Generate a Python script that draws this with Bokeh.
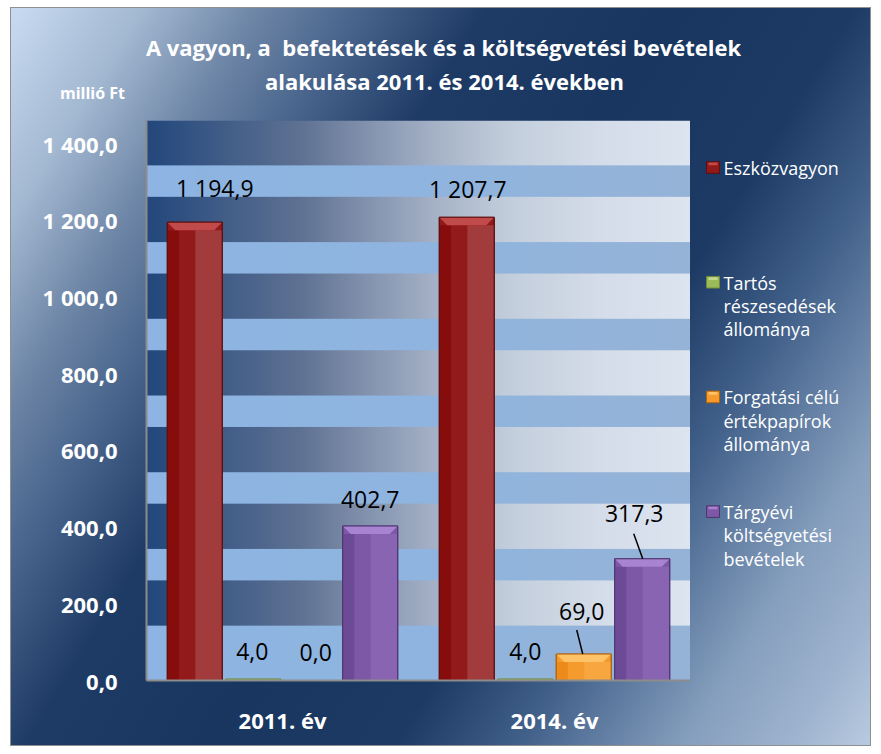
import numpy as np
from bokeh.plotting import figure
from bokeh.layouts import column, row
from bokeh.models import FactorRange, Range1d, FixedTicker
from bokeh.core.properties import value
from bokeh.embed import file_html
from bokeh.resources import INLINE

# ---------------- data ----------------
years = ["2011. év", "2014. év"]
series_names = [
    "Eszközvagyon",
    "Tartós\nrészesedések\nállománya",
    "Forgatási célú\nértékpapírok\nállománya",
    "Tárgyévi\nköltségvetési\nbevételek",
]
eszkozvagyon = [1194.9, 1207.7]
tartos_reszesedesek = [4.0, 4.0]
forgatasi_ertekpapirok = [0.0, 69.0]
targyevi_bevetelek = [402.7, 317.3]
y_ticks = [0, 200, 400, 600, 800, 1000, 1200, 1400]
y_tick_labels = ["0,0", "200,0", "400,0", "600,0", "800,0", "1 000,0", "1 200,0", "1 400,0"]
title_lines = ["A vagyon, a  befektetések és a költségvetési bevételek",
               "alakulása 2011. és 2014. években"]
unit_label = "millió Ft"

series_values = [eszkozvagyon, tartos_reszesedesek, forgatasi_ertekpapirok, targyevi_bevetelek]

# ---------------- styles ----------------
FONT = "Open Sans"
TOTAL_W, TOP_H = 859, 112
BL, BB = 135, 65
FW, FH = 544, 560
MAIN_W, MAIN_H = BL + FW, FH + BB
LEG_W = TOTAL_W - MAIN_W
Y_MAX = 1460
UY = Y_MAX / FH                 # data units per px (y)
UX = len(years) / FW            # category units per px (x)

palette = [
    dict(base="#931a1a", left="#870c0c", right="#a23b3b", cap="#c14a4a", edge="#5e1010"),
    dict(base="#9bbb59", left="#8aa84c", right="#a6c46a", cap="#c0d890", edge="#6f8a3a"),
    dict(base="#f59a2c", left="#ec8a1a", right="#f7a640", cap="#ffc266", edge="#b0650f"),
    dict(base="#7c58a6", left="#6c4a96", right="#8864b2", cap="#a783d2", edge="#4e356f"),
]
slot_offsets = [-0.3225, -0.1075, 0.1075, 0.3225]
bar_w = 55 * UX
cap_px = 8
label_dx_px = [[20, 1], [-1, 0], [4, -2], [0, -8]]
label_dy_px = [[34, 28], [27, 27], [28, 43], [27, 45]]
leaders = {(2, 1): (-7, 24, -1), (3, 1): (-8.5, 25, 0.5)}

light_bands = [(0, 143)] + [(61 + 200 * k, 143 + 200 * k) for k in range(1, 7)]

bg_css = ("linear-gradient(122deg, #c8dbf2 0%, #a3b8d1 10%, #6c84a5 19%, #46628a 27%, "
          "#1e3b66 36%, #18365f 50%, #1c3a64 64%, #3f5e88 73%, #869fbe 86%, "
          "#9eb3ce 94%, #b8cae0 100%)")


def clear(fig):
    fig.border_fill_alpha = 0
    fig.background_fill_alpha = 0
    fig.outline_line_color = None
    fig.grid.visible = False


# ---------------- main plot ----------------
p = figure(width=MAIN_W, height=MAIN_H,
           x_range=FactorRange(factors=years, range_padding=0),
           y_range=Range1d(0, Y_MAX),
           output_backend="svg", toolbar_location=None,
           min_border_left=BL, min_border_right=0, min_border_top=0, min_border_bottom=BB)
clear(p)


def hex2rgb(h):
    return [int(h[i:i + 2], 16) for i in (1, 3, 5)]


def grad_row(stops, n=136):
    t = np.linspace(0, 1, n)
    ts = [s[0] for s in stops]
    cols = [hex2rgb(s[1]) for s in stops]
    arr = np.zeros((1, n, 4), dtype=np.uint8)
    for c in range(3):
        arr[0, :, c] = np.round(np.interp(t, ts, [cc[c] for cc in cols])).astype(np.uint8)
    arr[0, :, 3] = 255
    return arr.view(np.uint32).reshape(1, n)


dark_img = grad_row([(0, "#23487c"), (0.28, "#5e7192"), (0.45, "#8f9db7"), (0.55, "#a9b6c9"),
                     (0.67, "#c3cedc"), (0.83, "#d3dce8"), (1, "#dbe4ef")])
light_img = grad_row([(0, "#8db4e2"), (0.5, "#8fb4df"), (1, "#95b3d7")])

p.image_rgba(image=[dark_img], x=0, y=0, dw=len(years), dh=Y_MAX)
p.image_rgba(image=[light_img] * len(light_bands), x=[0] * len(light_bands),
             y=[b[0] for b in light_bands], dw=[len(years)] * len(light_bands),
             dh=[b[1] - b[0] for b in light_bands])

fmt = lambda v: f"{v:,.1f}".replace(",", " ").replace(".", ",")
cap_u = cap_px * UY
for s, vals in enumerate(series_values):
    col = palette[s]
    xs = [i + 0.5 + slot_offsets[s] for i in range(len(years))]
    p.vbar(x=xs, top=vals, bottom=0, width=bar_w, fill_color=col["base"],
           line_color=col["edge"], line_width=1)
    big = [(x, v) for x, v in zip(xs, vals) if v > 3 * cap_u]
    if big:
        bx = [b[0] for b in big]
        bv = [b[1] for b in big]
        p.vbar(x=[x + bar_w * 0.25 for x in bx], top=[v - cap_u for v in bv], bottom=0.6,
               width=bar_w * 0.48, fill_color=col["right"], line_color=None)
        p.vbar(x=[x - bar_w * 0.39 for x in bx], top=[v - cap_u for v in bv], bottom=0.6,
               width=bar_w * 0.2, fill_color=col["left"], line_color=None)
        ins = 8 * UX
        p.patches(xs=[[x - bar_w / 2, x + bar_w / 2, x + bar_w / 2 - ins, x - bar_w / 2 + ins] for x in bx],
                  ys=[[v, v, v - cap_u, v - cap_u] for v in bv],
                  fill_color=col["cap"], line_color=None)
        p.vbar(x=bx, top=bv, bottom=0, width=bar_w, fill_color=None,
               line_color=col["edge"], line_width=1)
    p.text(x=[x + label_dx_px[s][i] * UX for i, x in enumerate(xs)],
           y=vals, text=[fmt(v) for v in vals],
           y_offset=[-label_dy_px[s][i] for i in range(len(years))],
           text_align="center", text_baseline="middle",
           text_font=value(FONT), text_font_size="23px", text_color="black")
    for i in range(len(years)):
        if (s, i) in leaders:
            dx0, dy0, dx1 = leaders[(s, i)]
            p.segment(x0=[xs[i] + dx0 * UX], y0=[vals[i] + dy0 * UY],
                      x1=[xs[i] + dx1 * UX], y1=[vals[i]],
                      line_color="black", line_width=1.5)

p.yaxis.ticker = FixedTicker(ticks=y_ticks)
p.yaxis.major_label_overrides = {t: l for t, l in zip(y_ticks, y_tick_labels)}
for ax in (p.xaxis, p.yaxis):
    ax.major_label_text_color = "white"
    ax.major_label_text_font = FONT
    ax.major_label_text_font_style = "bold"
    ax.major_tick_line_color = None
    ax.minor_tick_line_color = None
    ax.axis_line_color = "#8c8c8c"
    ax.axis_line_width = 2
p.yaxis.major_label_text_font_size = "22px"
p.yaxis.major_label_standoff = 23
p.xaxis.major_label_text_font_size = "22px"
p.xaxis.major_label_standoff = 18

# ---------------- title strip ----------------
top = figure(width=TOTAL_W, height=TOP_H, x_range=Range1d(0, TOTAL_W), y_range=Range1d(TOP_H, 0),
             x_axis_type=None, y_axis_type=None, output_backend="svg", toolbar_location=None,
             min_border=0)
clear(top)
top.text(x=[432, 433], y=[38, 72], text=[t.replace("  ", " \u00a0") for t in title_lines],
         text_align="center", text_baseline="middle",
         text_font=value(FONT), text_font_style="bold", text_font_size="22px", text_color="white")
top.text(x=[81], y=[84], text=[unit_label], text_align="center", text_baseline="middle",
         text_font=value(FONT), text_font_style="bold", text_font_size="16px", text_color="white")

# ---------------- legend panel ----------------
leg = figure(width=LEG_W, height=MAIN_H, x_range=Range1d(0, LEG_W), y_range=Range1d(MAIN_H, 0),
             x_axis_type=None, y_axis_type=None, output_backend="svg", toolbar_location=None,
             min_border=0)
clear(leg)
first_y, item_step, line_h = 53, 128, 26
sq_x, txt_x, sq = 22.5, 33, 13
for s, name in enumerate(series_names):
    col = palette[s]
    y0 = first_y + item_step * s
    leg.rect(x=[sq_x], y=[y0 - 0.5], width=sq, height=sq, fill_color=col["base"],
             line_color=col["edge"])
    leg.rect(x=[sq_x], y=[y0 - 4.5], width=sq - 4, height=3, fill_color=col["cap"], line_color=None)
    lines = name.split("\n")
    leg.text(x=[txt_x] * len(lines), y=[y0 + line_h * k for k in range(len(lines))], text=lines,
             text_align="left", text_baseline="middle", text_font=value(FONT),
             text_font_size="18px", text_color="white")

layout = column(top, row(p, leg), styles={"margin-left": "10px", "margin-top": "7px",
                                          "border": "1px solid #8f8f8f", "background": bg_css})

open("out.html", "w").write(file_html(layout, INLINE))
